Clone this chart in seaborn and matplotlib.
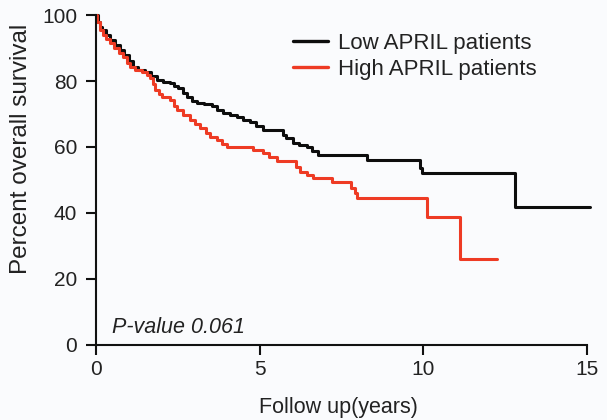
import matplotlib
matplotlib.use("Agg")
import matplotlib.pyplot as plt
import seaborn as sns
import pandas as pd

low_time = [0, 0.05, 0.12, 0.2, 0.3, 0.42, 0.57, 0.73, 0.87, 1.0, 1.13, 1.3, 1.5, 1.68, 1.86,
            2.05, 2.26, 2.4, 2.51, 2.65, 2.78, 2.95, 3.09, 3.3, 3.55, 3.7, 3.88, 4.1, 4.31, 4.5,
            4.71, 4.9, 5.1, 5.71, 5.8, 6.02, 6.2, 6.45, 6.6, 6.78, 8.28, 9.9, 9.96, 12.8, 15.1]
low_surv = [100, 98, 96.5, 95.5, 94, 92.5, 91, 89.4, 88, 86, 84.2, 83.5, 82.7, 81.5, 80.3,
            79.8, 79.4, 78.5, 77.9, 76.5, 75.2, 74, 73.3, 73, 72.3, 71.3, 70.3, 69.7, 69.1, 68.3,
            67.6, 66.5, 65.2, 63.5, 62.7, 61.2, 60.6, 60.0, 58.8, 57.6, 56.1, 53.5, 52.1, 41.7, 41.7]

high_time = [0, 0.04, 0.12, 0.22, 0.32, 0.43, 0.55, 0.7, 0.83, 0.95, 1.04, 1.2, 1.41, 1.55, 1.65,
             1.75, 1.8, 1.92, 2.02, 2.26, 2.38, 2.48, 2.66, 2.87, 3.02, 3.18, 3.35, 3.49, 3.7, 3.85,
             4.0, 4.8, 5.1, 5.3, 5.53, 6.1, 6.24, 6.45, 6.64, 7.22, 7.8, 7.9, 7.98, 10.12, 11.13, 12.25]
high_surv = [100, 98, 95.5, 94, 92.8, 91.5, 90, 88.5, 87.3, 85.5, 84.2, 83.5, 82.7, 81.8, 80.9,
             79, 77.3, 76.2, 75.2, 74.2, 72.5, 71.2, 69.7, 68.2, 67, 65.8, 64.3, 63.0, 62.1, 61,
             60.0, 59.1, 58.2, 57, 55.8, 54, 52.4, 51.5, 50.6, 49.4, 47.5, 46, 44.5, 38.8, 26.1, 26.1]

groups = ["Low APRIL patients", "High APRIL patients"]
colors = ["#0d0d0d", "#EE3B24"]

df = pd.concat([
    pd.DataFrame({"t": low_time, "s": low_surv, "g": groups[0]}),
    pd.DataFrame({"t": high_time, "s": high_surv, "g": groups[1]}),
], ignore_index=True)

sns.set_style("ticks")
plt.rcParams["font.family"] = ["Liberation Sans", "DejaVu Sans"]

bg = "#FAFBFD"
txt = "#222222"
fig = plt.figure(figsize=(6.07, 4.2), dpi=100, facecolor=bg)
ax = fig.add_axes([0.158, 0.179, 0.809, 0.785])
ax.set_facecolor(bg)

sns.lineplot(data=df, x="t", y="s", hue="g", hue_order=groups, palette=colors,
             estimator=None, sort=False, drawstyle="steps-post", linewidth=2.2,
             ax=ax, legend=True)
for ln in ax.lines:
    ln.set_clip_on(False)

ax.set_xlim(0, 15)
ax.set_ylim(0, 100)
ax.set_xticks([0, 5, 10, 15])
ax.set_yticks([0, 20, 40, 60, 80, 100])
sns.despine(ax=ax)
for sp in ["left", "bottom"]:
    ax.spines[sp].set_linewidth(1.5)
    ax.spines[sp].set_color("#111111")
ax.tick_params(axis="both", direction="out", length=7, width=1.5, labelsize=15,
               colors="#111111", labelcolor=txt)
ax.tick_params(axis="y", pad=6.5)
ax.tick_params(axis="x", pad=4)

ax.set_xlabel("Follow up(years)", fontsize=15.5, color=txt)
ax.xaxis.set_label_coords(0.494, -0.157)
ax.set_ylabel("Percent overall survival", fontsize=17.5, color=txt)
ax.yaxis.set_label_coords(-0.13, 0.595)

ax.text(0.5, 5.3, "P-value 0.061", fontsize=15.5, style="italic", color=txt,
        va="center", ha="left")

leg = ax.legend(loc="upper left", bbox_to_anchor=(0.401, 0.945), frameon=False,
                fontsize=16, handlelength=1.6, handletextpad=0.45, labelspacing=0.2,
                borderpad=0, borderaxespad=0)
for h in leg.get_lines():
    h.set_linewidth(2.4)
for t in leg.get_texts():
    t.set_color(txt)

fig.savefig("out.png", dpi=100, facecolor=bg)
